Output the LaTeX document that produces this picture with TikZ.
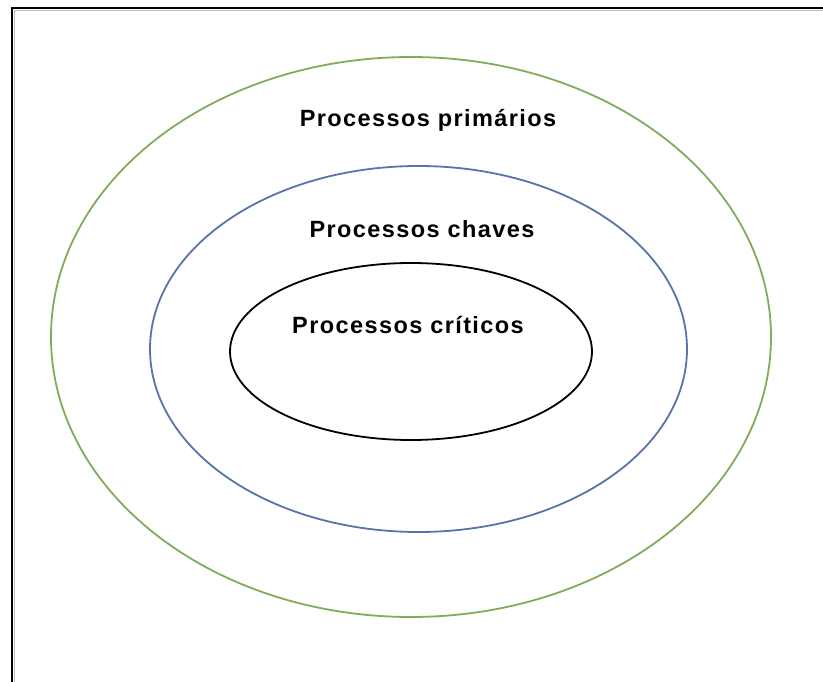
\documentclass[tikz,border=0pt]{standalone}
\usepackage{fontspec}
\setmainfont{Liberation Sans}
\newfontfamily\labelfont[LetterSpace=6]{Liberation Sans Bold}
\usetikzlibrary{shapes.geometric}
\definecolor{ringgreen}{RGB}{128,172,92}
\definecolor{ringblue}{RGB}{88,116,168}
\tikzset{
  ring/.style={ellipse, draw, line width=1.8pt, inner sep=0pt},
  ringlabel/.style={anchor=base, inner sep=0pt, font=\labelfont\fontsize{23.5}{26}\selectfont}
}
\begin{document}
\begin{tikzpicture}[x=1pt,y=-1pt]
  \useasboundingbox (0,0) rectangle (823,682);
  \fill[white] (0,0) rectangle (823,682);
  % window frame along the top and left edges
  \draw[gray!50, line width=1pt] (823,10.5) -- (14.5,10.5) -- (14.5,682);
  \draw[black, line width=2.2pt] (823,8) -- (12,8) -- (12,682);
  % nested process rings
  \node[ring, draw=ringgreen, minimum width=720, minimum height=560] (primarios) at (411,337) {};
  \node[ring, draw=ringblue, minimum width=537, minimum height=366] (chaves) at (418.5,349) {};
  \node[ring, draw=black, minimum width=362, minimum height=177] (criticos) at (411,351.5) {};
  % labels
  \node[ringlabel] (lprim) at (428,127) {Processos primários};
  \node[ringlabel] (lchav) at (422,237) {Processos chaves};
  \node[ringlabel] (lcrit) at (408,333) {Processos críticos};
\end{tikzpicture}
\end{document}
